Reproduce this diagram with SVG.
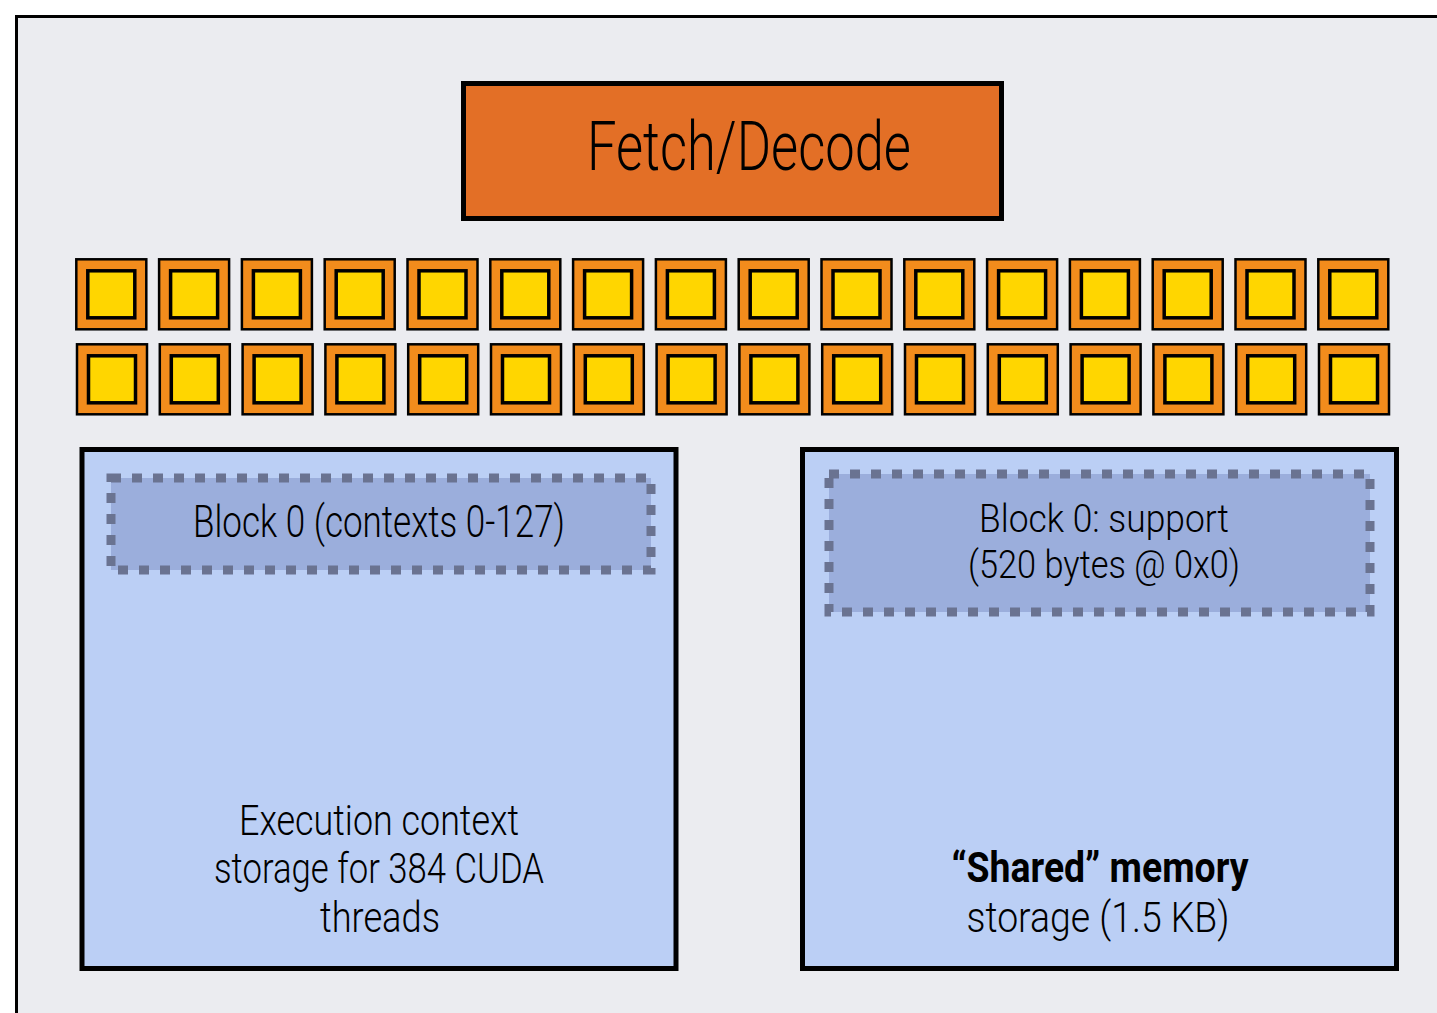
<svg xmlns="http://www.w3.org/2000/svg" xmlns:xlink="http://www.w3.org/1999/xlink" width="1437" height="1013" viewBox="0 0 1437 1013">
<style>
.lbl{font-family:Roboto,"Liberation Sans",sans-serif;font-weight:300;fill:#000;text-anchor:middle}
.bold{font-family:Roboto,"Liberation Sans",sans-serif;font-weight:700;fill:#000;text-anchor:middle}
.big{fill:#BBCFF5;stroke:#000;stroke-width:5}
.dash{fill:#9BAEDC;stroke:#6A7391;stroke-width:9;stroke-dasharray:10 11}
</style>
<defs>
<g id="core">
<rect x="1" y="1" width="70" height="70" fill="#F28C1C" stroke="#000" stroke-width="2.5"/>
<rect x="12.5" y="12.5" width="47" height="47" fill="#FFD600" stroke="#000" stroke-width="3.5"/>
</g>
</defs>
<rect x="0" y="0" width="1437" height="1013" fill="#FFFFFF"/>
<rect id="frame" x="16.5" y="16.5" width="1440" height="1010" fill="#EBECF0" stroke="#000" stroke-width="3"/>
<g id="fetch-decode">
<rect x="463.5" y="83.5" width="538" height="135" fill="#E36F26" stroke="#000" stroke-width="5"/>
<text class="lbl" x="749" y="170" font-size="68" textLength="324" lengthAdjust="spacingAndGlyphs">Fetch/Decode</text>
</g>
<g id="cores">
<g id="r1c1"><use xlink:href="#core" x="75.3" y="258.3"/></g>
<g id="r1c2"><use xlink:href="#core" x="158.1" y="258.3"/></g>
<g id="r1c3"><use xlink:href="#core" x="240.9" y="258.3"/></g>
<g id="r1c4"><use xlink:href="#core" x="323.7" y="258.3"/></g>
<g id="r1c5"><use xlink:href="#core" x="406.5" y="258.3"/></g>
<g id="r1c6"><use xlink:href="#core" x="489.3" y="258.3"/></g>
<g id="r1c7"><use xlink:href="#core" x="572.1" y="258.3"/></g>
<g id="r1c8"><use xlink:href="#core" x="654.9" y="258.3"/></g>
<g id="r1c9"><use xlink:href="#core" x="737.7" y="258.3"/></g>
<g id="r1c10"><use xlink:href="#core" x="820.5" y="258.3"/></g>
<g id="r1c11"><use xlink:href="#core" x="903.3" y="258.3"/></g>
<g id="r1c12"><use xlink:href="#core" x="986.1" y="258.3"/></g>
<g id="r1c13"><use xlink:href="#core" x="1068.9" y="258.3"/></g>
<g id="r1c14"><use xlink:href="#core" x="1151.7" y="258.3"/></g>
<g id="r1c15"><use xlink:href="#core" x="1234.5" y="258.3"/></g>
<g id="r1c16"><use xlink:href="#core" x="1317.3" y="258.3"/></g>
<g id="r2c1"><use xlink:href="#core" x="76" y="343.3"/></g>
<g id="r2c2"><use xlink:href="#core" x="158.8" y="343.3"/></g>
<g id="r2c3"><use xlink:href="#core" x="241.6" y="343.3"/></g>
<g id="r2c4"><use xlink:href="#core" x="324.4" y="343.3"/></g>
<g id="r2c5"><use xlink:href="#core" x="407.2" y="343.3"/></g>
<g id="r2c6"><use xlink:href="#core" x="490" y="343.3"/></g>
<g id="r2c7"><use xlink:href="#core" x="572.8" y="343.3"/></g>
<g id="r2c8"><use xlink:href="#core" x="655.6" y="343.3"/></g>
<g id="r2c9"><use xlink:href="#core" x="738.4" y="343.3"/></g>
<g id="r2c10"><use xlink:href="#core" x="821.2" y="343.3"/></g>
<g id="r2c11"><use xlink:href="#core" x="904" y="343.3"/></g>
<g id="r2c12"><use xlink:href="#core" x="986.8" y="343.3"/></g>
<g id="r2c13"><use xlink:href="#core" x="1069.6" y="343.3"/></g>
<g id="r2c14"><use xlink:href="#core" x="1152.4" y="343.3"/></g>
<g id="r2c15"><use xlink:href="#core" x="1235.2" y="343.3"/></g>
<g id="r2c16"><use xlink:href="#core" x="1318" y="343.3"/></g>
</g>
<g id="exec-context">
<rect class="big" x="82" y="449.5" width="594" height="519"/>
<text class="lbl" x="379" y="835" font-size="42" textLength="280" lengthAdjust="spacingAndGlyphs">Execution context</text>
<text class="lbl" x="379" y="883" font-size="42" textLength="330" lengthAdjust="spacingAndGlyphs">storage for 384 CUDA</text>
<text class="lbl" x="380" y="932" font-size="42" textLength="120" lengthAdjust="spacingAndGlyphs">threads</text>
</g>
<g id="block0-contexts">
<rect class="dash" x="111" y="478" width="540" height="92"/>
<text class="lbl" x="379" y="537" font-size="44" textLength="372" lengthAdjust="spacingAndGlyphs">Block 0 (contexts 0-127)</text>
</g>
<g id="shared-memory">
<rect class="big" x="802.5" y="449.5" width="594" height="519"/>
<text class="bold" x="1100" y="882" font-size="42" textLength="297" lengthAdjust="spacingAndGlyphs">“Shared” memory</text>
<text class="lbl" x="1098" y="932" font-size="42" textLength="263" lengthAdjust="spacingAndGlyphs">storage (1.5 KB)</text>
</g>
<g id="block0-support">
<rect class="dash" x="829" y="474" width="541" height="138"/>
<text class="lbl" x="1104" y="532" font-size="39" textLength="250" lengthAdjust="spacingAndGlyphs">Block 0: support</text>
<text class="lbl" x="1104" y="578" font-size="39" textLength="272" lengthAdjust="spacingAndGlyphs">(520 bytes @ 0x0)</text>
</g>
<g id="connectors"></g>
</svg>
